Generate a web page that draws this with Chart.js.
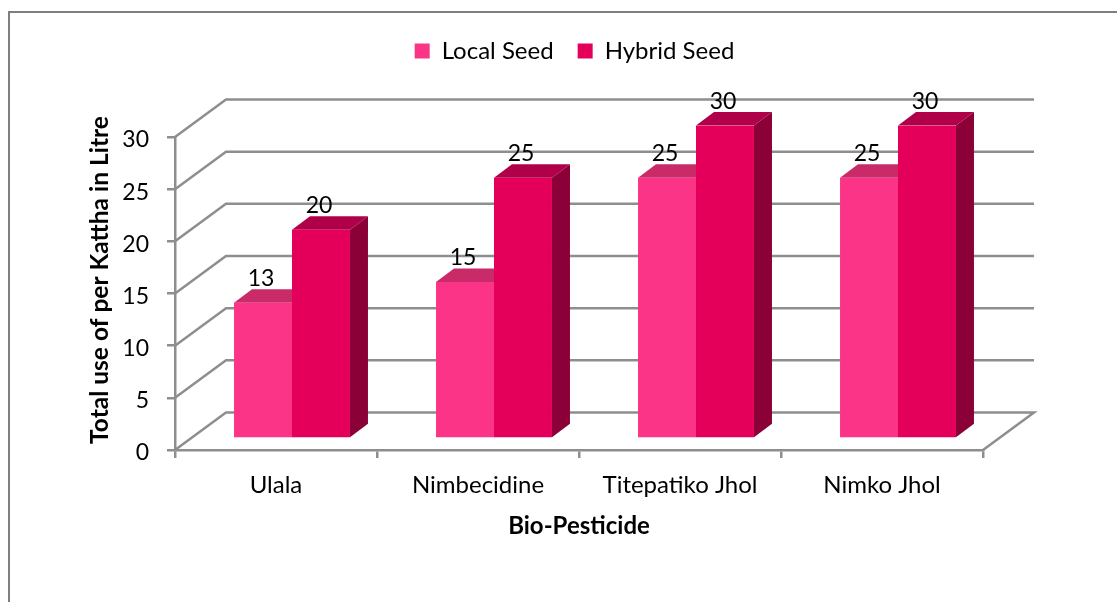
<!DOCTYPE html>
<html>
<head>
<meta charset="utf-8">
<title>Bio-Pesticide</title>
<script src="https://cdn.jsdelivr.net/npm/chart.js@4"></script>
<style>
    html, body { margin: 0; padding: 0; background: #fff; overflow: hidden; }
    #frame { position: absolute; left: 8px; top: 11px; right: 0; bottom: 0; border-left: 2px solid #7f7f7f; border-top: 2px solid #7f7f7f; }
    #chart { position: absolute; left: 0; top: 0; }
</style>
</head>
<body>
<div id="frame"></div>
<canvas id="chart" width="1117" height="602"></canvas>
<script>
const categories = ["Ulala", "Nimbecidine", "Titepatiko Jhol", "Nimko Jhol"];
const localSeed = [13, 15, 25, 25];
const hybridSeed = [20, 25, 30, 30];
const yTicks = [0, 5, 10, 15, 20, 25, 30];

const FONT = "Lato, 'Open Sans', sans-serif";
const GRAY = "#8e8e8e";
const wall = { dx: 51, dy: -37.5 };     // back wall offset from the front plane
const barShift = { dx: 16, dy: -11.5 }; // bars stand half way in the floor
const depth = { dx: 18, dy: -13.5 };

const sideColors = [
    { top: "#c92a68", side: "#a8004a" },
    { top: "#b0004a", side: "#8c0038" },
];

function poly(ctx, pts, fill) {
    ctx.beginPath();
    pts.forEach((p, i) => (i ? ctx.lineTo(p[0], p[1]) : ctx.moveTo(p[0], p[1])));
    ctx.closePath();
    ctx.fillStyle = fill;
    ctx.fill();
}

const box3d = {
    id: "box3d",
    afterLayout(chart) {
        // the legend is centred on the whole figure, not on the plot
        chart.legend.left += 83;
        chart.legend.right += 83;
    },
    beforeDatasetsDraw(chart) {
        const { ctx, chartArea, scales } = chart;
        const left = chartArea.left;
        const right = chartArea.right;

        // walls: every grid line runs from the front plane to the back wall
        ctx.save();
        ctx.strokeStyle = GRAY;
        ctx.lineWidth = 2.5;
        yTicks.forEach((t) => {
            const y = scales.y.getPixelForValue(t);
            ctx.beginPath();
            ctx.moveTo(left, y);
            ctx.lineTo(left + wall.dx, y + wall.dy);
            ctx.lineTo(right + wall.dx, y + wall.dy);
            if (t === 0) ctx.lineTo(right, y);
            ctx.stroke();
        });
        ctx.restore();

        // bar tops and sides sit behind the fronts that Chart.js paints next
        ctx.save();
        ctx.translate(barShift.dx, barShift.dy);
        chart.data.datasets.forEach((ds, i) => {
            chart.getDatasetMeta(i).data.forEach((bar) => {
                const x0 = bar.x - bar.width / 2;
                const x1 = bar.x + bar.width / 2;
                const d = depth;
                poly(ctx, [[x0, bar.y], [x1, bar.y], [x1 + d.dx, bar.y + d.dy], [x0 + d.dx, bar.y + d.dy]], sideColors[i].top);
                poly(ctx, [[x1, bar.y], [x1 + d.dx, bar.y + d.dy], [x1 + d.dx, bar.base + d.dy], [x1, bar.base]], sideColors[i].side);
            });
        });
        ctx.restore();

        ctx.save();
        ctx.translate(barShift.dx, barShift.dy);
    },
    afterDatasetsDraw(chart) {
        const { ctx } = chart;
        ctx.restore();

        // value labels
        ctx.save();
        ctx.font = "23px " + FONT;
        ctx.fillStyle = "#000";
        ctx.textAlign = "center";
        ctx.textBaseline = "middle";
        chart.data.datasets.forEach((ds, i) => {
            chart.getDatasetMeta(i).data.forEach((bar, j) => {
                ctx.fillText(ds.data[j], bar.x + barShift.dx - 2, bar.y + barShift.dy - 24);
            });
        });
        ctx.restore();
    },
    afterDraw(chart) {
        // the axis title sits above the middle of the axis, so it is placed by hand
        const { ctx } = chart;
        ctx.save();
        ctx.translate(100, 280);
        ctx.rotate(-Math.PI / 2);
        ctx.font = "bold 24.5px " + FONT;
        ctx.fillStyle = "#000";
        ctx.textAlign = "center";
        ctx.textBaseline = "middle";
        ctx.fillText("Total use of per Kattha in Litre", 0, 0);
        ctx.restore();
    },
};

new Chart(document.getElementById("chart"), {
    type: "bar",
    data: {
        labels: categories,
        datasets: [
            { label: "Local Seed", data: localSeed, backgroundColor: "#fb3487" },
            { label: "Hybrid Seed", data: hybridSeed, backgroundColor: "#e4005a" },
        ],
    },
    plugins: [box3d],
    options: {
        responsive: false,
        animation: false,
        categoryPercentage: 0.574,
        barPercentage: 1,
        layout: { padding: { top: 15, left: 0, right: 134, bottom: 57 } },
        plugins: {
            tooltip: { enabled: false },
            legend: {
                position: "top",
                labels: {
                    boxWidth: 15,
                    boxHeight: 15,
                    padding: 24,
                    color: "#000",
                    font: { family: FONT, size: 24 },
                },
            },
            // blank box under the legend, keeps the plot down at its place
            title: { display: true, text: " ", weight: 500, font: { size: 10 }, padding: { top: 0, bottom: 52 } },
        },
        scales: {
            x: {
                afterFit: (s) => { s.height = 95; },
                grid: { drawOnChartArea: false, color: GRAY, lineWidth: 2.5, tickLength: 8 },
                border: { color: GRAY, width: 2.5 },
                ticks: { color: "#000", padding: 13, maxRotation: 0, font: { family: FONT, size: 24 } },
                title: { display: true, text: "Bio-Pesticide", color: "#000", font: { family: FONT, size: 24, weight: "bold" } },
            },
            y: {
                min: 0,
                max: 30,
                afterFit: (s) => { s.width = 175; },
                afterBuildTicks: (s) => { s.ticks = yTicks.map((v) => ({ value: v })); },
                grid: { drawOnChartArea: false, color: GRAY, lineWidth: 2.5, tickLength: 8 },
                border: { color: GRAY, width: 2.5 },
                ticks: { color: "#000", padding: 18, labelOffset: 3, font: { family: FONT, size: 23 } },
            },
        },
    },
});
</script>
</body>
</html>
